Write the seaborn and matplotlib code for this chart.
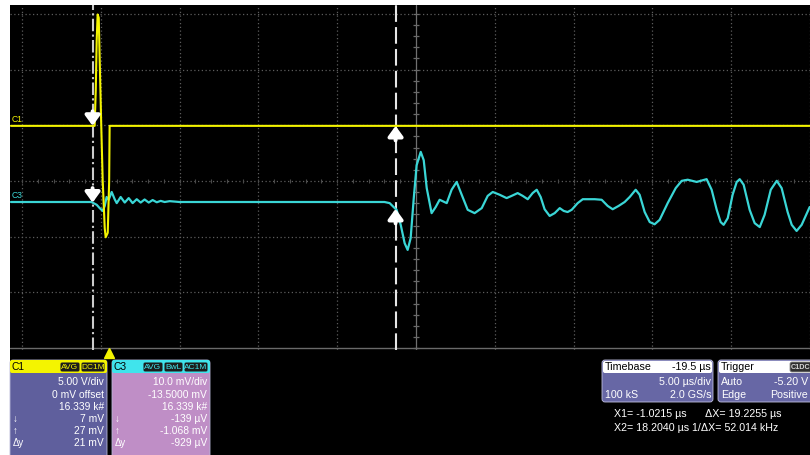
import numpy as np
import pandas as pd
import matplotlib
matplotlib.use("Agg")
import matplotlib.pyplot as plt
from matplotlib.patches import Rectangle, FancyBboxPatch
import seaborn as sns

# ---------------- acquisition settings ----------------
time_per_div = 5.0        # µs/div
time_center = 19.5        # µs at the screen centre (delay -19.5 µs)
px_per_div_x = 78.8
px_per_div_y = 55.7

c1_volts_per_div = 5.0
c1_position_div = 0.99
c3_mv_per_div = 10.0
c3_position_div = -0.377

cursor_x1 = -1.0215       # µs
cursor_x2 = 18.2040       # µs

# ---------------- C1 trace (V) ----------------
c1_t = [-6.2, -0.89, -0.82, -0.76, -0.70, -0.63, -0.57, -0.48, -0.38, -0.25,
        -0.19, -0.06, 0.03, 0.06, 44.48]
c1_v = [0.0, 0.0, 3.2, 7.7, 10.0, 9.7, 5.9, 0.5, -4.9, -9.2,
        -10.0, -9.6, -5.0, 0.0, 0.0]

# ---------------- C3 trace (mV, AC coupled) ----------------
c3_t = [-6.2, -1.1, -0.76, -0.57, -0.38, -0.25, -0.13, 0.0, 0.19, 0.38,
        0.51, 0.76, 1.02, 1.27, 1.52, 1.78, 2.03, 2.28, 2.54, 2.79,
        3.05, 3.30, 3.55, 3.87, 4.5, 17.5, 17.83, 18.08, 18.27, 18.53,
        18.78, 18.97, 19.16, 19.35, 19.54, 19.80, 19.99, 20.18, 20.49, 20.75,
        21.0, 21.45, 21.76, 22.08, 22.40, 22.78, 23.22, 23.67, 24.05, 24.37,
        24.81, 25.25, 25.57, 25.95, 26.27, 26.59, 26.90, 27.16, 27.41, 27.66,
        27.98, 28.30, 28.62, 28.87, 29.12, 29.38, 29.76, 30.08, 30.84, 31.28,
        31.66, 31.98, 32.36, 32.74, 33.06, 33.44, 33.69, 34.01, 34.33, 34.64,
        34.96, 35.47, 35.98, 36.36, 36.74, 37.31, 37.94, 38.26, 38.58, 38.83,
        39.02, 39.28, 39.59, 39.85, 40.04, 40.29, 40.67, 40.99, 41.31, 41.62,
        42.01, 42.39, 42.70, 43.08, 43.34, 43.65, 43.97, 44.48]
c3_mv = [0.0, 0.0, -0.5, -1.1, -1.6, -0.7, 0.9, 0.4, 1.8, 0.5,
         -0.2, 0.9, -0.1, 0.7, -0.2, 0.5, -0.1, 0.45, -0.1, 0.35,
         -0.05, 0.2, 0.0, 0.15, 0.0, 0.0, -0.2, -0.9, -1.4, -4.1,
         -7.4, -8.6, -6.5, 0.4, 6.6, 9.0, 7.5, 2.5, -2.0, -0.9,
         0.4, -0.2, 2.2, 3.6, 1.3, -1.4, -2.0, -1.1, 1.1, 1.8,
         1.3, 0.7, 1.1, 1.6, 1.1, 0.5, 1.6, 2.2, 0.9, -1.3,
         -2.5, -2.0, -1.1, -1.6, -1.8, -1.4, -0.2, 0.5, 0.5, 0.4,
         -0.7, -1.3, -0.7, 0.0, 0.9, 2.2, 1.3, -1.8, -3.6, -4.0,
         -3.2, -0.2, 2.5, 3.8, 4.0, 3.6, 4.1, 2.2, -1.4, -3.6,
         -4.1, -2.9, 1.3, 3.6, 4.1, 3.1, -1.4, -3.8, -4.5, -2.3,
         2.2, 3.8, 2.5, -1.8, -4.1, -5.2, -4.1, -0.9]

# ---------------- readout texts ----------------
c1_badges = ["AVG", "DC1M"]
c3_badges = ["AVG", "BwL", "AC1M"]
c1_readout = ["5.00 V/div", "0 mV offset", "16.339 k#", "7 mV", "27 mV", "21 mV"]
c3_readout = ["10.0 mV/div", "-13.5000 mV", "16.339 k#", "-139 µV", "-1.068 mV", "-929 µV"]
row_marks = ["", "", "", "↓", "↑", "Δy"]
timebase_rows = [("Timebase", "-19.5 µs"), ("", "5.00 µs/div"), ("100 kS", "2.0 GS/s")]
trigger_rows = [("Trigger", ""), ("Auto", "-5.20 V"), ("Edge", "Positive")]
cursor_lines = [("X1= -1.0215 µs", "ΔX= 19.2255 µs"), ("X2= 18.2040 µs", "1/ΔX= 52.014 kHz")]

# ---------------- styling ----------------
sns.set_style("dark")
plt.rcParams["font.family"] = ["Liberation Sans", "DejaVu Sans"]

YELLOW = "#f4f400"
CYAN = "#3ad6d6"
GRID = "#5c5c5c"
FONT = 7.4

W, H = 810, 455
fig = plt.figure(figsize=(W / 100, H / 100), dpi=100, facecolor="white")

# background / panel layer in pixel coordinates
bg = fig.add_axes([0, 0, 1, 1], zorder=0)
bg.set_xlim(0, W)
bg.set_ylim(H, 0)
bg.axis("off")
bg.add_patch(Rectangle((10, 5), W - 10, H - 5, facecolor="black", edgecolor="none"))

# scope screen
left_px, right_px, top_px, bot_px = 10, 810, 5, 350
ax = fig.add_axes([left_px / W, (H - bot_px) / H, (right_px - left_px) / W, (bot_px - top_px) / H],
                  zorder=1)
ax.set_facecolor("none")
x_center_px = 416
y_center_px = 181
us_per_px = time_per_div / px_per_div_x
ax.set_xlim(time_center - (x_center_px - left_px) * us_per_px,
            time_center + (right_px - x_center_px) * us_per_px)
ax.set_ylim(-(bot_px - y_center_px) / px_per_div_y, (y_center_px - top_px) / px_per_div_y)
ax.set_xticks([])
ax.set_yticks([])
for s in ax.spines.values():
    s.set_visible(False)
ax.grid(False)

# graticule
for k in range(-5, 6):
    t = time_center + k * time_per_div
    ax.axvline(t, ymin=0, ymax=1, color=GRID if k else "#707070",
               lw=0.9, ls=(0, (1, 2)) if k else "-", zorder=1)
for d in range(-2, 4):
    ax.axhline(d, color=GRID, lw=0.9, ls=(0, (1, 2)), zorder=1)
ax.axhline(-3, color="#6a6a6a", lw=1.0, zorder=1)
# minor ticks on the centre lines
minor_y = np.arange(-3, 3.01, 0.2)
ax.plot(np.full_like(minor_y, time_center), minor_y, ls="none", marker="_",
        ms=5, mew=0.9, color="#6a6a6a", zorder=1)
minor_x = np.arange(time_center - 25, time_center + 25.01, 1.0)
ax.plot(minor_x, np.zeros_like(minor_x), ls="none", marker="|",
        ms=3, mew=0.8, color="#4a4a4a", zorder=1)

# cursors
ax.axvline(cursor_x1, color="#cccccc", lw=1.5, ls=(0, (6, 1.6, 1, 1.6)), zorder=2)
ax.axvline(cursor_x2, color="#e6e6e6", lw=1.5, ls=(0, (8, 2.5)), zorder=2)

# traces
c1_df = pd.DataFrame({"t": c1_t, "div": np.array(c1_v) / c1_volts_per_div + c1_position_div})
c3_df = pd.DataFrame({"t": c3_t, "div": np.array(c3_mv) / c3_mv_per_div + c3_position_div})
sns.lineplot(data=c1_df, x="t", y="div", ax=ax, color=YELLOW, lw=1.5,
             sort=False, estimator=None, zorder=4)
sns.lineplot(data=c3_df, x="t", y="div", ax=ax, color=CYAN, lw=1.6,
             sort=False, estimator=None, zorder=3)
for line in ax.get_lines()[-2:]:
    line.set_solid_joinstyle("round")
ax.set_xlabel("")
ax.set_ylabel("")

# cursor markers on the traces
arrow_kw = dict(arrowstyle="-|>,head_width=0.4,head_length=0.55", color="white",
                lw=2.8, shrinkA=0, shrinkB=0, mutation_scale=11)
c1_at_x1 = np.interp(cursor_x1, c1_df["t"], c1_df["div"])
c3_at_x1 = np.interp(cursor_x1, c3_df["t"], c3_df["div"])
c1_at_x2 = np.interp(cursor_x2, c1_df["t"], c1_df["div"])
c3_at_x2 = np.interp(cursor_x2, c3_df["t"], c3_df["div"])
for yv in (c1_at_x1, c3_at_x1):
    ax.annotate("", xy=(cursor_x1, yv), xytext=(0, 10.5), textcoords="offset points",
                arrowprops=arrow_kw, zorder=6)
for yv in (c1_at_x2, c3_at_x2):
    ax.annotate("", xy=(cursor_x2, yv), xytext=(0, -10.5), textcoords="offset points",
                arrowprops=arrow_kw, zorder=6)

# channel labels at the left edge
ax.text(ax.get_xlim()[0] + 0.1, c1_position_div + 0.04, "C1", color=YELLOW,
        fontsize=6.2, ha="left", va="bottom", zorder=5)
ax.text(ax.get_xlim()[0] + 0.1, c3_position_div + 0.04, "C3", color=CYAN,
        fontsize=6.2, ha="left", va="bottom", zorder=5)

# trigger position marker
ax.plot([0], [-(353 - y_center_px) / px_per_div_y], marker="^", ms=7, color=YELLOW,
        mec=YELLOW, clip_on=False, zorder=5)


# ---------------- readout panels ----------------
def rbox(x, y, w, h, fc, ec="none", r=3, lw=0.8, z=2):
    bg.add_patch(FancyBboxPatch((x, y), w, h, boxstyle=f"round,pad=0,rounding_size={r}",
                                facecolor=fc, edgecolor=ec, lw=lw, zorder=z))


def channel_panel(x0, x1, head_col, body_col, name, badges, badge_x, readout):
    rbox(x0, 360, x1 - x0, 110, body_col, ec="#b8b8d8", lw=0.6)
    rbox(x0, 360, x1 - x0, 13, head_col, r=2, z=3)
    bg.text(x0 + 2, 367, name, color="black", fontsize=FONT, ha="left", va="center", zorder=4)
    for (bx0, bx1), label in zip(badge_x, badges):
        rbox(bx0, 362, bx1 - bx0, 10, "#1c1c1c", ec=head_col, r=2, lw=0.7, z=4)
        bg.text((bx0 + bx1) / 2, 367.3, label, color=head_col, fontsize=6.0,
                ha="center", va="center", zorder=5)
    rows_y = [382, 394.5, 406.5, 418.5, 430.5, 442.5]
    for yy, txt, mark in zip(rows_y, readout, row_marks):
        bg.text(x1 - 3, yy, txt, color="white", fontsize=FONT, ha="right", va="center", zorder=4)
        if mark:
            bg.text(x0 + 3, yy, mark, color="white", fontsize=FONT - 0.5, ha="left",
                    va="center", zorder=4)


channel_panel(10, 107, YELLOW, "#5f5f9d", "C1", c1_badges, [(60, 80), (81, 105)], c1_readout)
channel_panel(112, 210, "#40e4ec", "#bf8ec6", "C3", c3_badges,
              [(143, 163), (164, 183), (184, 208)], c3_readout)


def info_panel(x0, x1, rows, text_right, badge=None):
    rbox(x0, 360, x1 - x0, 42, "#6767a5", ec="#c0c0e0", lw=0.6)
    rbox(x0 + 1, 361, x1 - x0 - 2, 12, "white", r=2, z=3)
    ys = [367, 382, 395]
    for i, ((lt, rt), yy) in enumerate(zip(rows, ys)):
        col = "black" if i == 0 else "white"
        if lt:
            bg.text(x0 + 3, yy, lt, color=col, fontsize=FONT + 0.3, ha="left", va="center", zorder=4)
        if rt:
            bg.text(text_right, yy, rt, color=col, fontsize=FONT + 0.3, ha="right", va="center",
                    zorder=4)
    if badge:
        rbox(790, 362, 22, 10, "#303030", ec="#909090", r=2, lw=0.6, z=4)
        bg.text(791, 367.3, badge, color="#d8d8d8", fontsize=5.2, ha="left", va="center",
                fontweight="bold", zorder=5)


info_panel(602, 713, timebase_rows, 711)
info_panel(718, 814, trigger_rows, 808, badge="C1DC")

for (lt, rt), yy, rx in zip(cursor_lines, [414, 428], [705, 692]):
    bg.text(614, yy, lt, color="white", fontsize=FONT + 0.3, ha="left", va="center")
    bg.text(rx, yy, rt, color="white", fontsize=FONT + 0.3, ha="left", va="center")

fig.savefig("out.png", dpi=100, facecolor="white")
